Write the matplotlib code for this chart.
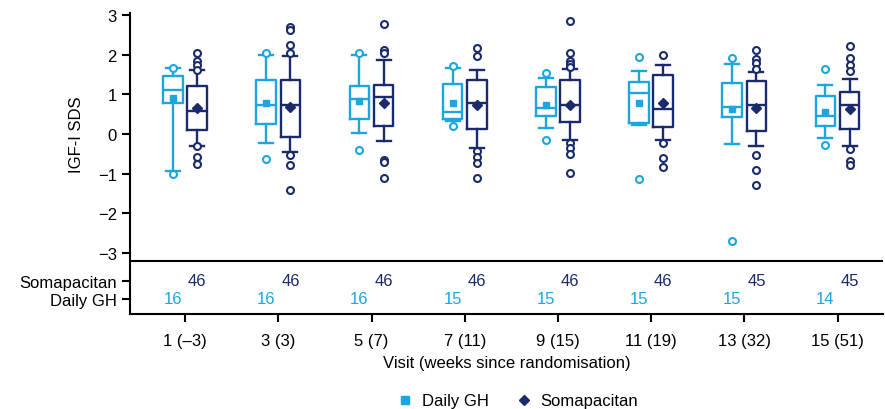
import numpy as np
import matplotlib.pyplot as plt
from matplotlib.lines import Line2D

plt.rcParams['font.family'] = ['Liberation Sans', 'DejaVu Sans']

visits = ["1 (\u20133)", "3 (3)", "5 (7)", "7 (11)", "9 (15)", "11 (19)", "13 (32)", "15 (51)"]
n_soma = [46, 46, 46, 46, 46, 46, 45, 45]
n_daily = [16, 16, 16, 15, 15, 15, 15, 14]

# Daily GH box stats
daily_q1 = [0.77, 0.26, 0.38, 0.39, 0.45, 0.28, 0.43, 0.19]
daily_med = [1.12, 0.74, 0.87, 0.55, 0.66, 1.04, 0.68, 0.45]
daily_q3 = [1.47, 1.35, 1.22, 1.25, 1.19, 1.32, 1.29, 0.95]
daily_lo = [-0.93, -0.23, 0.03, 0.32, 0.15, 0.22, -0.25, -0.10]
daily_hi = [1.67, 1.98, 1.98, 1.67, 1.40, 1.60, 1.77, 1.23]
daily_mean = [0.91, 0.79, 0.84, 0.78, 0.73, 0.78, 0.63, 0.55]
daily_out = [[1.67, -1.0], [2.05, -0.62], [2.05, -0.40], [1.71, 0.19],
             [1.53, -0.15], [1.94, -1.14], [1.92, -2.69], [1.63, -0.27]]

# Somapacitan box stats
soma_q1 = [0.09, -0.08, 0.19, 0.13, 0.30, 0.18, 0.07, 0.13]
soma_med = [0.59, 0.74, 0.94, 0.78, 0.72, 0.63, 0.74, 0.72]
soma_q3 = [1.20, 1.37, 1.23, 1.35, 1.37, 1.48, 1.33, 1.06]
soma_lo = [-0.29, -0.46, -0.17, -0.34, -0.14, -0.14, -0.30, -0.31]
soma_hi = [1.62, 1.97, 1.87, 1.61, 1.65, 1.75, 1.57, 1.39]
soma_mean = [0.66, 0.67, 0.78, 0.74, 0.73, 0.77, 0.66, 0.62]
soma_out = [
    [2.03, 1.84, 1.75, 1.62, -0.29, -0.58, -0.75],
    [2.70, 2.61, 2.24, 2.05, -0.52, -0.78, -1.41],
    [2.78, 2.12, 2.05, -0.65, -0.71, -1.10],
    [2.16, 1.97, -0.44, -0.58, -0.73, -1.12],
    [2.84, 2.03, 1.84, 1.77, 1.70, -0.23, -0.35, -0.51, -0.97],
    [1.98, -0.23, -0.61, -0.82],
    [2.12, 1.88, 1.80, 1.63, -0.52, -0.90, -1.28],
    [2.22, 1.91, 1.75, 1.59, -0.38, -0.69, -0.79],
]

light = '#1CA6DF'
dark = '#1B2A6B'


def make_stats(q1, med, q3, lo, hi, mean, out):
    stats = []
    for i in range(len(q1)):
        stats.append(dict(q1=q1[i], med=med[i], q3=q3[i], whislo=lo[i],
                          whishi=hi[i], mean=mean[i], fliers=out[i]))
    return stats


def draw(ax, stats, pos, col, meanmarker):
    ax.bxp(stats, positions=pos, widths=0.21, capwidths=0.15,
           showmeans=True, patch_artist=False,
           boxprops=dict(color=col, linewidth=1.7),
           whiskerprops=dict(color=col, linewidth=1.7),
           capprops=dict(color=col, linewidth=1.7),
           medianprops=dict(color=col, linewidth=1.7),
           meanprops=dict(marker=meanmarker, markerfacecolor=col, markeredgecolor=col, markersize=5),
           flierprops=dict(marker='o', markerfacecolor='white', markeredgecolor=col,
                           markersize=5, markeredgewidth=1.5))


x = np.arange(len(visits))
off = 0.13

fig = plt.figure(figsize=(8.85, 4.10), dpi=100)
ax = fig.add_axes([0.147, 0.232, 0.851, 0.734])

draw(ax, make_stats(daily_q1, daily_med, daily_q3, daily_lo, daily_hi, daily_mean, daily_out),
     x - off, light, 's')
draw(ax, make_stats(soma_q1, soma_med, soma_q3, soma_lo, soma_hi, soma_mean, soma_out),
     x + off, dark, 'D')

# table of numbers under the plot
y_soma = -3.70
y_daily = -4.15
for i in range(len(visits)):
    ax.text(x[i] + off, y_soma, str(n_soma[i]), color=dark, fontsize=12, ha='center', va='center')
    ax.text(x[i] - off, y_daily, str(n_daily[i]), color=light, fontsize=12, ha='center', va='center')
ax.axhline(-3.19, color='black', linewidth=1.5)

ax.set_xlim(-0.59, 7.49)
ax.set_ylim(-4.53, 3.05)
ax.set_yticks([3, 2, 1, 0, -1, -2, -3, y_soma, y_daily])
ax.set_yticklabels(['3', '2', '1', '0', '\u22121', '\u22122', '\u22123', 'Somapacitan', 'Daily GH'])
ax.set_xticks(x)
ax.set_xticklabels(visits)
ax.tick_params(labelsize=12, width=1.5, length=6, color='black')
ax.tick_params(axis='x', pad=8)

ax.spines['top'].set_visible(False)
ax.spines['right'].set_visible(False)
ax.spines['left'].set_linewidth(1.5)
ax.spines['bottom'].set_linewidth(1.5)

ax.set_ylabel('IGF-I SDS', fontsize=12)
ax.yaxis.set_label_coords(-0.061, 0.6)
ax.set_xlabel('Visit (weeks since randomisation)', fontsize=12, labelpad=5)

handles = [Line2D([], [], marker='s', color=light, linestyle='none', markersize=6),
           Line2D([], [], marker='D', color=dark, linestyle='none', markersize=5)]
fig.legend(handles, ['Daily GH', 'Somapacitan'], loc='lower center', bbox_to_anchor=(0.585, -0.035),
           ncol=2, frameon=False, fontsize=12, handlelength=1.0, handletextpad=0.5, columnspacing=1.6)

fig.savefig('out.png', dpi=100)
